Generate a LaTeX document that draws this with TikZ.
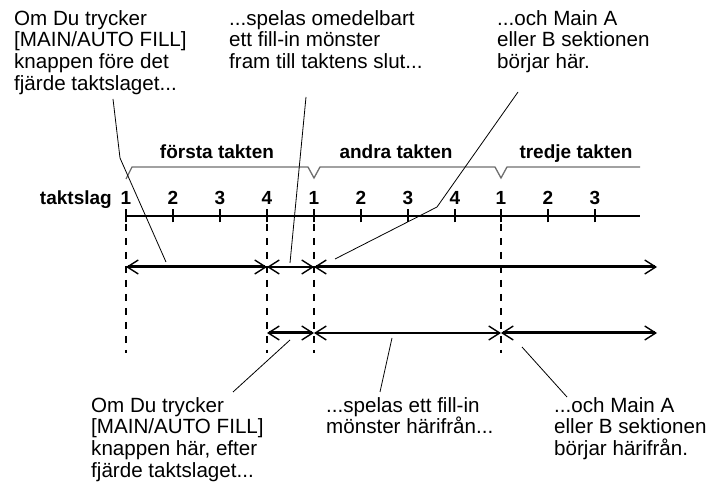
\documentclass[tikz,border=0pt]{standalone}
\usepackage{fontspec}
\setmainfont{Liberation Sans}
\usetikzlibrary{arrows.meta}
\definecolor{bracegray}{HTML}{6E6E6E}
\begin{document}
\begin{tikzpicture}[x=1pt,y=-1pt,
  txt/.style={anchor=north west,inner sep=0pt,align=left,font=\fontsize{20.6}{21.7}\selectfont},
  lbl/.style={inner sep=0pt,font=\bfseries\fontsize{19}{20}\selectfont},
  leader/.style={line width=0.8pt},
  bracepath/.style={draw=bracegray,line width=1.3pt,line join=miter},
  tickline/.style={line width=1.8pt},
  dashline/.style={line width=1.7pt,dash pattern=on 7pt off 7pt},
  barb/.tip={Straight Barb[length=11pt,width=14pt,line width=1.4pt]},
  thickarr/.style={line width=3pt,{barb}-{barb}},
  thinarr/.style={line width=1.1pt,{barb}-{barb}}]
\useasboundingbox (0,0) rectangle (713,489);
% top texts
\node[txt] (ta) at (14,10) {Om Du trycker\\{[}MAIN/AUTO FILL{]}\\knappen före det\\fjärde taktslaget...};
\node[txt] (tb) at (229,10) {...spelas omedelbart\\ett fill-in mönster\\fram till taktens slut...};
\node[txt] (tc) at (497,10) {...och Main A\\eller B sektionen\\börjar här.};
% bottom texts
\node[txt] (ba) at (91,397) {Om Du trycker\\{[}MAIN/AUTO FILL{]}\\knappen här, efter\\fjärde taktslaget...};
\node[txt] (bb) at (326,397) {...spelas ett fill-in\\mönster härifrån...};
\node[txt] (bc) at (554,397) {...och Main A\\eller B sektionen\\börjar härifrån.};
% measure titles
\node[lbl,anchor=base] (m1) at (217,159) {första takten};
\node[lbl,anchor=base] (m2) at (396,159) {andra takten};
\node[lbl,anchor=base] (m3) at (576,159) {tredje takten};
% brace
\draw[bracepath] (126,179) -- (132,167) -- (308,167) -- (314,178) -- (320,167)
  -- (495,167) -- (501,178) -- (507,167) -- (640,167);
% beat axis
\node[lbl,anchor=base east] (ts) at (112,205) {taktslag};
\coordinate (axs) at (126,216);
\coordinate (axe) at (640,216);
\draw[line width=2.2pt] (axs) -- (axe);
\foreach \i/\x/\n in {0/126/1,1/173/2,2/220/3,3/267/4,4/314/1,5/361/2,6/408/3,7/455/4,8/501/1,9/548/2,10/595/3}{
  \coordinate (k\i) at (\x,216);
  \draw[tickline] ([yshift=-6.5pt]k\i) -- ([yshift=6.5pt]k\i);
  \node[lbl,anchor=base] (n\i) at (\x,205) {\n};
}
% dashed verticals
\foreach \x/\nm in {126/da,267/db,314/dc,501/dd}{
  \coordinate (\nm t) at (\x,224);
  \coordinate (\nm b) at (\x,353);
  \draw[dashline] (\nm t) -- (\nm b);
}
% row 1
\coordinate (r1a) at (126,267);
\coordinate (r1b) at (267,267);
\coordinate (r1c) at (314,267);
\coordinate (r1e) at (657,267);
\draw[thickarr] (r1a) -- (r1b);
\draw[thinarr] (r1b) -- (r1c);
\draw[thickarr] (r1c) -- (r1e);
% row 2
\coordinate (r2b) at (267,333);
\coordinate (r2c) at (314,333);
\coordinate (r2d) at (501,333);
\coordinate (r2e) at (657,333);
\draw[thickarr] (r2b) -- (r2c);
\draw[thinarr] (r2c) -- (r2d);
\draw[thickarr] (r2d) -- (r2e);
% leaders
\coordinate (l1s) at (113,99);
\coordinate (l1k) at (120,158);
\coordinate (l1e) at (166,262);
\draw[leader] (l1s) -- (l1k) -- (l1e);
\coordinate (l2s) at (306,97);
\coordinate (l2e) at (290,263);
\draw[leader] (l2s) -- (l2e);
\coordinate (l3s) at (518,92);
\coordinate (l3k) at (437,207);
\coordinate (l3e) at (335,259);
\draw[leader] (l3s) -- (l3k) -- (l3e);
\coordinate (l4s) at (290,340);
\coordinate (l4e) at (233,392);
\draw[leader] (l4s) -- (l4e);
\coordinate (l5s) at (392,338);
\coordinate (l5e) at (380,392);
\draw[leader] (l5s) -- (l5e);
\coordinate (l6s) at (522,347);
\coordinate (l6e) at (567,397);
\draw[leader] (l6s) -- (l6e);
\end{tikzpicture}
\end{document}
